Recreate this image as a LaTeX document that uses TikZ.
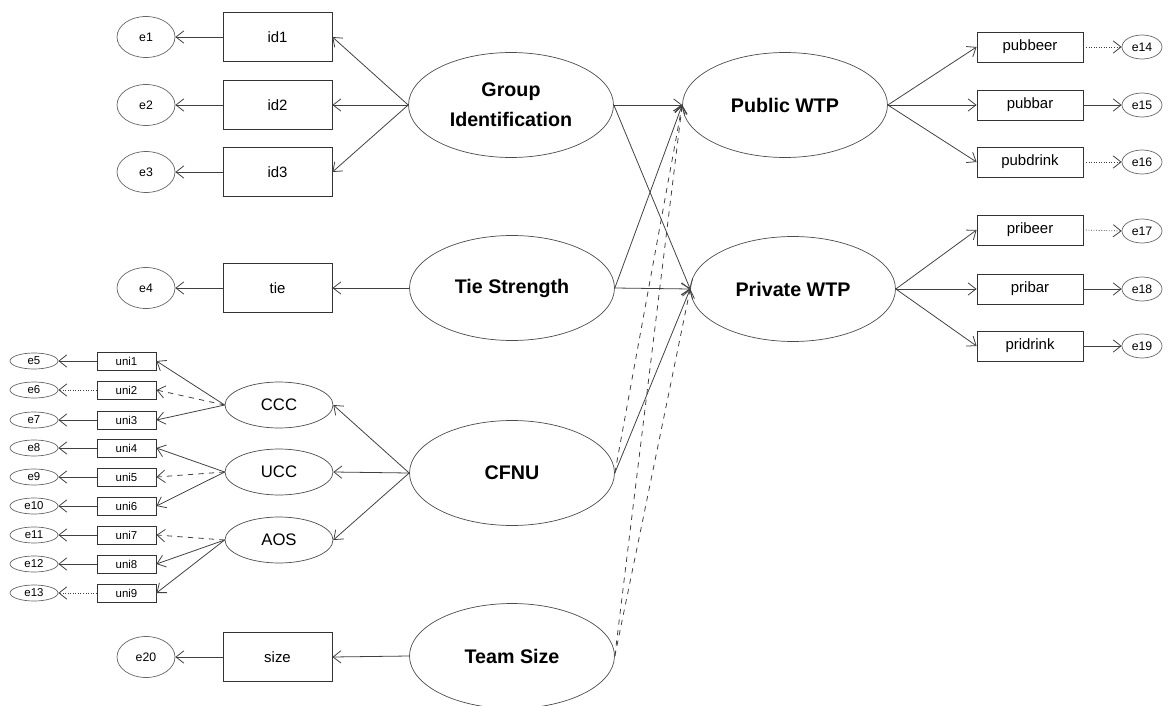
\documentclass[tikz,border=0pt]{standalone}
\usepackage{fontspec}
\setmainfont{Liberation Sans}
\usetikzlibrary{arrows.meta,shapes.geometric}
\tikzset{
	latent/.style={ellipse, draw=black!70, line width=0.4pt, minimum width=4.1cm, minimum height=2.1cm, inner sep=0pt, align=center, font=\fontsize{11.2}{17}\selectfont\bfseries},
	factor/.style={ellipse, draw=black!70, line width=0.4pt, minimum width=2.16cm, minimum height=0.92cm, inner sep=0pt, font=\fontsize{9.5}{11}\selectfont},
	obsbox/.style={rectangle, draw=black!80, line width=0.5pt, minimum width=2.18cm, minimum height=0.98cm, inner sep=0pt, font=\fontsize{8.5}{10}\selectfont},
	unibox/.style={rectangle, draw=black!80, line width=0.5pt, minimum width=1.18cm, minimum height=0.36cm, inner sep=0pt, font=\fontsize{6.5}{8}\selectfont},
	wtpbox/.style={rectangle, draw=black!80, line width=0.5pt, minimum width=2.12cm, minimum height=0.6cm, inner sep=0pt, font=\fontsize{8.5}{10}\selectfont},
	errbig/.style={ellipse, draw=black!60, line width=0.4pt, minimum width=1.16cm, minimum height=0.82cm, inner sep=0pt, font=\fontsize{7}{8}\selectfont},
	errsmall/.style={ellipse, draw=black!60, line width=0.4pt, minimum width=0.96cm, minimum height=0.32cm, inner sep=0pt, font=\fontsize{6.5}{8}\selectfont},
	errright/.style={ellipse, draw=black!60, line width=0.4pt, minimum width=0.8cm, minimum height=0.48cm, inner sep=0pt, font=\fontsize{7}{8}\selectfont},
	link/.style={-{Straight Barb[length=4.5pt,width=7pt]}, draw=black!75, line width=0.45pt}
}

\begin{document}
\begin{tikzpicture}[x=0.02cm, y=-0.02cm]
	%%%%% START %%%%%
	\useasboundingbox (0, 0) rectangle (1170, 706);
	
	\node[latent] (grp) at (511, 105) {Group\\Identification};
	\node[latent] (tiestr) at (512, 288) {Tie Strength};
	\node[latent] (cfnu) at (512, 473) {CFNU};
	\node[latent] (team) at (512, 656) {Team Size};
	\node[latent] (pub) at (785, 105) {Public WTP};
	\node[latent] (priv) at (793, 289) {Private WTP};
	
	\node[obsbox] (id1) at (277.5, 37) {id1};
	\node[obsbox] (id2) at (277.5, 105) {id2};
	\node[obsbox] (id3) at (277.5, 172) {id3};
	\node[obsbox] (tie) at (277.5, 288) {tie};
	\node[obsbox] (size) at (277.5, 657) {size};
	
	\node[errbig] (e1) at (146, 37) {e1};
	\node[errbig] (e2) at (146, 105) {e2};
	\node[errbig] (e3) at (146, 172) {e3};
	\node[errbig] (e4) at (146, 288) {e4};
	\node[errbig] (e20) at (146, 657) {e20};
	
	\node[factor] (ccc) at (279, 405) {CCC};
	\node[factor] (ucc) at (279, 472) {UCC};
	\node[factor] (aos) at (279, 540) {AOS};
	
	\node[unibox] (uni1) at (126.5, 361) {uni1};
	\node[unibox] (uni2) at (126.5, 390) {uni2};
	\node[unibox] (uni3) at (126.5, 420) {uni3};
	\node[unibox] (uni4) at (126.5, 448) {uni4};
	\node[unibox] (uni5) at (126.5, 477) {uni5};
	\node[unibox] (uni6) at (126.5, 506) {uni6};
	\node[unibox] (uni7) at (126.5, 535) {uni7};
	\node[unibox] (uni8) at (126.5, 564) {uni8};
	\node[unibox] (uni9) at (126.5, 593) {uni9};
	
	\node[errsmall] (e5) at (34, 361) {e5};
	\node[errsmall] (e6) at (34, 390) {e6};
	\node[errsmall] (e7) at (34, 420) {e7};
	\node[errsmall] (e8) at (34, 448) {e8};
	\node[errsmall] (e9) at (34, 477) {e9};
	\node[errsmall] (e10) at (34, 506) {e10};
	\node[errsmall] (e11) at (34, 535) {e11};
	\node[errsmall] (e12) at (34, 564) {e12};
	\node[errsmall] (e13) at (34, 593) {e13};
	
	\node[wtpbox] (pubbeer) at (1030, 47) {pubbeer};
	\node[wtpbox] (pubbar) at (1030, 105) {pubbar};
	\node[wtpbox] (pubdrink) at (1030, 162) {pubdrink};
	\node[wtpbox] (pribeer) at (1030, 230) {pribeer};
	\node[wtpbox] (pribar) at (1030, 289) {pribar};
	\node[wtpbox] (pridrink) at (1030, 346) {pridrink};
	
	\node[errright] (e14) at (1142, 47) {e14};
	\node[errright] (e15) at (1142, 105) {e15};
	\node[errright] (e16) at (1142, 162) {e16};
	\node[errright] (e17) at (1142, 231) {e17};
	\node[errright] (e18) at (1142, 289) {e18};
	\node[errright] (e19) at (1142, 346) {e19};
	
	% structural paths
	\draw[link] (grp.east) -- (pub.west);
	\draw[link] (grp.east) -- (priv.west);
	\draw[link] (tiestr.east) -- (pub.west);
	\draw[link] (tiestr.east) -- (priv.west);
	\draw[link, dashed] (cfnu.east) -- (pub.west);
	\draw[link] (cfnu.east) -- (priv.west);
	\draw[link, dashed] (team.east) -- (pub.west);
	\draw[link, dashed] (team.east) -- (priv.west);
	
	% loadings
	\draw[link] (grp.west) -- (id1.east);
	\draw[link] (grp.west) -- (id2.east);
	\draw[link] (grp.west) -- (id3.east);
	\draw[link] (tiestr.west) -- (tie.east);
	\draw[link] (team.west) -- (size.east);
	\draw[link] (cfnu.west) -- (ccc.east);
	\draw[link] (cfnu.west) -- (ucc.east);
	\draw[link] (cfnu.west) -- (aos.east);
	
	\draw[link] (ccc.west) -- (uni1.east);
	\draw[link, dashed] (ccc.west) -- (uni2.east);
	\draw[link] (ccc.west) -- (uni3.east);
	\draw[link] (ucc.west) -- (uni4.east);
	\draw[link, dashed] (ucc.west) -- (uni5.east);
	\draw[link] (ucc.west) -- (uni6.east);
	\draw[link, dashed] (aos.west) -- (uni7.east);
	\draw[link] (aos.west) -- (uni8.east);
	\draw[link] (aos.west) -- (uni9.east);
	
	\draw[link] (pub.east) -- (pubbeer.west);
	\draw[link] (pub.east) -- (pubbar.west);
	\draw[link] (pub.east) -- (pubdrink.west);
	\draw[link] (priv.east) -- (pribeer.west);
	\draw[link] (priv.east) -- (pribar.west);
	\draw[link] (priv.east) -- (pridrink.west);
	
	% errors
	\draw[link] (id1.west) -- (e1.east);
	\draw[link] (id2.west) -- (e2.east);
	\draw[link] (id3.west) -- (e3.east);
	\draw[link] (tie.west) -- (e4.east);
	\draw[link] (size.west) -- (e20.east);
	
	\draw[link] (uni1.west) -- (e5.east);
	\draw[link, densely dotted] (uni2.west) -- (e6.east);
	\draw[link] (uni3.west) -- (e7.east);
	\draw[link] (uni4.west) -- (e8.east);
	\draw[link] (uni5.west) -- (e9.east);
	\draw[link] (uni6.west) -- (e10.east);
	\draw[link] (uni7.west) -- (e11.east);
	\draw[link] (uni8.west) -- (e12.east);
	\draw[link, densely dotted] (uni9.west) -- (e13.east);
	
	\draw[link, densely dotted] (pubbeer.east) -- (e14.west);
	\draw[link] (pubbar.east) -- (e15.west);
	\draw[link, densely dotted] (pubdrink.east) -- (e16.west);
	\draw[link, densely dotted] (pribeer.east) -- (e17.west);
	\draw[link] (pribar.east) -- (e18.west);
	\draw[link] (pridrink.east) -- (e19.west);
	%%%%% END %%%%%
\end{tikzpicture}
\end{document}
